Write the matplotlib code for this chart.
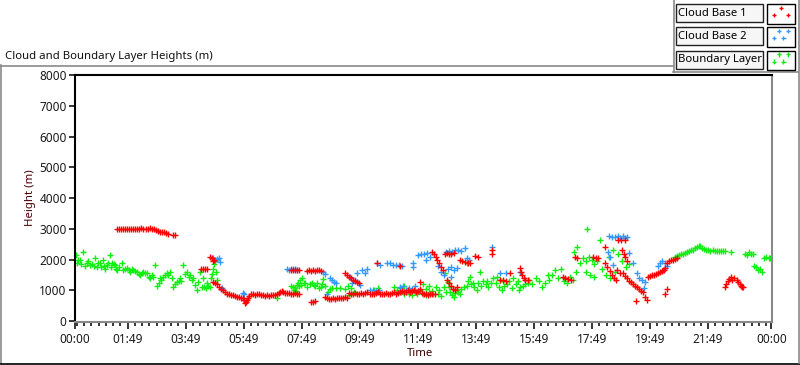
import matplotlib
matplotlib.use("Agg")
import matplotlib.pyplot as plt
from matplotlib.lines import Line2D
from matplotlib.patches import Rectangle
import numpy as np

plt.rcParams['font.family'] = ['Noto Sans', 'DejaVu Sans']

# (hour of day, height in m)
cloud_base_1 = [
    # ~3000 m layer
    (1.45, 3000), (1.52, 3000), (1.59, 2995), (1.66, 3000), (1.73, 3000), (1.80, 3000),
    (1.87, 3000), (1.94, 3005), (2.01, 3000), (2.08, 3000), (2.15, 3010), (2.22, 3000),
    (2.29, 3025), (2.36, 3010), (2.43, 3000), (2.50, 2990), (2.57, 3030), (2.64, 3010),
    (2.71, 2985), (2.78, 2950), (2.85, 2920), (2.92, 2900), (2.99, 2890), (3.06, 2890),
    (3.13, 2880), (3.20, 2850), (3.38, 2800), (3.44, 2790),
    # 04:20 - 07:45
    (4.33, 1690), (4.40, 1690), (4.47, 1690), (4.54, 1690), (4.66, 2100), (4.71, 2060),
    (4.75, 1960), (4.80, 1990),
    (4.76, 1280), (4.83, 1250), (4.90, 1200), (4.97, 1120), (5.03, 1060), (5.10, 1000),
    (5.17, 950), (5.24, 900), (5.31, 880), (5.38, 860), (5.45, 840), (5.52, 810),
    (5.59, 790), (5.66, 780), (5.73, 770), (5.78, 740), (5.82, 680), (5.85, 600),
    (5.88, 640), (5.92, 700), (5.96, 760), (6.00, 820), (6.06, 870), (6.13, 880),
    (6.20, 860), (6.27, 870), (6.34, 880), (6.41, 860), (6.48, 850), (6.55, 830),
    (6.62, 850), (6.69, 830), (6.76, 840), (6.83, 850), (6.90, 860), (6.97, 880),
    (7.03, 920), (7.08, 960), (7.13, 980), (7.18, 950), (7.24, 920), (7.31, 920),
    (7.38, 910), (7.45, 900), (7.52, 900), (7.59, 910), (7.66, 900), (7.73, 900),
    # 07:30 - 09:45
    (7.45, 1660), (7.52, 1660), (7.59, 1650), (7.66, 1660), (7.73, 1650),
    (8.00, 1640), (8.07, 1650), (8.14, 1620), (8.21, 1650), (8.28, 1640), (8.35, 1660),
    (8.42, 1650), (8.49, 1640),
    (8.12, 640), (8.19, 620), (8.26, 650),
    (8.60, 780), (8.67, 740), (8.74, 720), (8.81, 730), (8.88, 750), (8.95, 720),
    (9.02, 760), (9.09, 750), (9.16, 770), (9.23, 740), (9.30, 780), (9.37, 760),
    (9.31, 1560), (9.38, 1500), (9.45, 1440), (9.52, 1400), (9.59, 1350), (9.66, 1300),
    (9.73, 1280), (9.80, 1240),
    # ~900 m band
    (9.45, 930), (9.52, 900), (9.59, 890), (9.66, 920), (9.73, 880), (9.80, 900),
    (9.87, 910), (9.94, 890), (10.01, 920), (10.08, 950), (10.15, 900), (10.22, 880),
    (10.29, 900), (10.36, 920), (10.43, 950), (10.50, 900), (10.57, 870), (10.64, 890),
    (10.71, 910), (10.78, 880), (10.85, 900), (10.92, 930), (10.99, 950), (11.06, 900),
    (11.13, 920), (11.20, 960), (11.27, 980), (11.34, 940), (11.41, 960), (11.48, 1000),
    (11.55, 950), (11.62, 970), (11.69, 1000), (11.76, 960), (11.83, 990), (11.90, 1050),
    (11.97, 920), (12.04, 880), (12.11, 900), (12.18, 850), (12.25, 870), (12.32, 880),
    (12.39, 900),
    # scattered
    (10.41, 1890), (11.21, 1790), (11.90, 1270),
    (12.31, 2240), (12.37, 2180), (12.43, 2080), (12.49, 1980), (12.55, 1880), (12.62, 1760),
    (12.69, 1680),
    (12.76, 2200), (12.83, 2210), (12.90, 2190), (12.97, 2200), (13.07, 2210),
    (12.83, 1330), (12.90, 1250), (12.97, 1150), (13.03, 1060), (13.10, 1000), (13.17, 1100),
    (13.28, 1980), (13.35, 1950), (13.45, 1920), (13.55, 1880), (13.62, 1890),
    (13.79, 2110), (13.90, 2100),
    (14.38, 2300), (14.38, 2200),
    (14.66, 1330), (14.76, 1330), (14.86, 1310),
    (15.00, 1560), (15.34, 1720), (15.38, 1600), (15.42, 1500), (15.46, 1400), (15.52, 1330),
    (15.60, 1330),
    (16.83, 1430), (16.90, 1400), (17.00, 1360), (17.10, 1330),
    (17.24, 2080), (17.31, 2050),
    (17.86, 2080), (17.95, 2060), (18.03, 2040),
    (18.28, 2400),
    (18.28, 1880), (18.35, 1760), (18.42, 1620), (18.49, 1500), (18.56, 1420), (18.63, 1350),
    (18.69, 1660), (18.79, 1560),
    (18.72, 2630), (18.80, 2640), (18.95, 2630),
    (18.86, 2300), (18.92, 2200), (18.97, 2080), (19.03, 1960),
    (18.90, 1560), (18.97, 1480), (19.03, 1400), (19.10, 1320), (19.17, 1260), (19.24, 1200),
    (19.31, 1150), (19.38, 1100), (19.45, 1050), (19.52, 990), (19.59, 950),
    (19.34, 650), (19.66, 790), (19.72, 700),
    # evening rise
    (19.76, 1430), (19.83, 1460), (19.90, 1490), (19.97, 1510), (20.03, 1540), (20.10, 1560),
    (20.17, 1590), (20.24, 1620), (20.31, 1660),
    (20.34, 1720), (20.41, 1900), (20.48, 1950), (20.55, 1980), (20.62, 2000), (20.69, 2030),
    (20.76, 2050),
    (20.34, 880), (20.41, 1040),
    (22.41, 1110), (22.45, 1200), (22.50, 1300), (22.55, 1380), (22.59, 1430), (22.65, 1350),
    (22.72, 1390), (22.80, 1340), (22.86, 1260), (22.90, 1200), (22.95, 1150), (23.00, 1120),
    (23.03, 1100),
]

cloud_base_2 = [
    (4.76, 2050), (4.83, 2000), (4.90, 2030), (4.97, 2050), (5.00, 1920), (5.07, 1070),
    (5.79, 910), (5.83, 880),
    (7.31, 1690), (7.38, 1680), (7.45, 1700), (7.52, 1690), (7.59, 1690), (7.66, 1680),
    (8.55, 1590), (8.62, 1520), (8.69, 900), (8.79, 1400), (8.86, 1330), (8.93, 1280),
    (9.00, 1250),
    (9.48, 1430), (9.55, 1230), (9.66, 1330), (9.72, 1560), (9.83, 1170), (9.90, 1660),
    (10.00, 1560), (10.07, 1690),
    (10.17, 1000), (10.27, 1030), (10.38, 980), (10.48, 1010),
    (10.41, 1890), (10.52, 1820), (10.76, 1890), (10.86, 1880), (10.97, 1820), (11.07, 1820),
    (11.17, 1830), (11.28, 1810), (11.66, 1880), (11.66, 1760),
    (11.21, 1100), (11.31, 1150), (11.41, 1000), (11.52, 1070), (11.62, 1050), (11.72, 1150),
    (11.83, 980),
    (11.83, 2150), (11.93, 2200), (12.03, 2180), (12.14, 2210), (12.24, 2100), (12.10, 1980),
    (12.50, 1800), (12.62, 1600), (12.72, 1500), (12.97, 1450),
    (12.80, 2250), (12.90, 2280), (13.00, 2260), (13.10, 2300), (13.20, 2310), (13.30, 2280),
    (13.45, 2370),
    (12.85, 1700), (12.95, 1760), (13.05, 1650), (13.15, 1720),
    (13.52, 2050), (13.59, 1980),
    (14.38, 2400), (14.66, 1560), (14.86, 1560), (15.34, 1600),
    (18.40, 2760), (18.50, 2750), (18.60, 2740), (18.72, 2760), (18.79, 2720), (18.90, 2760),
    (18.97, 2700), (19.03, 2740),
    (18.38, 2240), (18.45, 2080), (18.55, 1820), (19.10, 2210), (19.24, 1880), (19.38, 1560),
    (19.45, 1400), (19.55, 1330), (19.65, 1270), (19.62, 1070),
    (20.10, 1800), (20.17, 1880), (20.24, 1950), (20.34, 1900), (20.41, 1780), (20.28, 1660),
]

boundary_layer = [
    (0.03, 2150), (0.07, 1890), (0.10, 2000), (0.17, 1980), (0.20, 1850), (0.28, 2240),
    (0.35, 1800), (0.41, 1890), (0.45, 1950), (0.52, 1820), (0.60, 1850), (0.65, 1780),
    (0.69, 2050), (0.76, 1760), (0.80, 1900), (0.86, 1890), (0.90, 1750), (0.97, 1980),
    (1.00, 1800), (1.05, 1700), (1.10, 1820), (1.15, 1880), (1.21, 2150), (1.25, 1750),
    (1.28, 1890), (1.35, 1850), (1.38, 1820), (1.40, 1700),
    (1.45, 1660), (1.52, 1750), (1.62, 1890), (1.66, 1660), (1.72, 1700), (1.79, 1720),
    (1.85, 1650), (1.90, 1600), (1.97, 1700), (2.00, 1660), (2.07, 1620), (2.14, 1600),
    (2.20, 1550), (2.24, 1500), (2.30, 1560), (2.34, 1600), (2.41, 1580), (2.48, 1560),
    (2.55, 1450), (2.59, 1400), (2.64, 1500), (2.69, 1430), (2.76, 1820), (2.83, 1140),
    (2.88, 1250), (2.93, 1400), (2.98, 1350), (3.03, 1430), (3.10, 1500), (3.17, 1560),
    (3.22, 1500), (3.28, 1600), (3.33, 1400), (3.38, 1100), (3.45, 1200), (3.52, 1270),
    (3.57, 1300), (3.62, 1400), (3.67, 1300), (3.72, 1820), (3.78, 1550), (3.86, 1600),
    (3.92, 1450), (3.97, 1500), (4.03, 1330), (4.08, 1400), (4.14, 1170), (4.20, 1000),
    (4.24, 1270), (4.31, 1600), (4.36, 1100), (4.41, 1400), (4.45, 1120), (4.50, 1080),
    (4.55, 1230), (4.60, 1150), (4.66, 1100), (4.70, 1400), (4.72, 1550), (4.76, 1700),
    (4.80, 1850), (4.83, 1950), (4.86, 1600), (4.90, 1330),
    (6.97, 750),
    (7.45, 1150), (7.52, 1100), (7.55, 1000), (7.59, 1070), (7.62, 970), (7.66, 1170),
    (7.69, 1230), (7.72, 1130), (7.76, 1330), (7.80, 1170), (7.83, 1400), (7.88, 1250),
    (7.93, 1230), (8.00, 1100), (8.10, 1200), (8.17, 1230), (8.24, 1170), (8.28, 1130),
    (8.35, 1230), (8.40, 1070), (8.47, 1100), (8.52, 1200), (8.55, 1370), (8.62, 1130),
    (8.72, 940), (8.80, 1050), (8.86, 1070), (9.00, 1070), (9.14, 1070), (9.30, 1040),
    (9.40, 1130), (9.45, 850), (9.50, 1070), (9.60, 960),
    (10.30, 1030), (10.45, 1070), (11.00, 1100), (11.10, 1000), (11.20, 1070), (11.35, 1140),
    (11.25, 950), (11.35, 880), (11.50, 900), (11.60, 850), (11.70, 950), (11.80, 870),
    (11.90, 1000), (12.00, 900), (12.10, 850), (12.20, 960), (12.35, 880), (12.50, 900),
    (12.60, 820),
    (12.00, 1200), (12.10, 1050), (12.20, 1130), (12.30, 980), (12.45, 1100), (12.55, 1000),
    (12.70, 1100), (12.80, 950),
    (12.76, 1560), (12.86, 1270), (12.93, 940), (13.10, 910), (13.20, 950), (13.28, 880),
    (12.90, 1100), (13.00, 850), (13.05, 800), (13.15, 1000), (13.30, 1050), (13.40, 1100),
    (13.50, 1150),
    (13.52, 1890), (13.62, 1430), (13.72, 1230), (13.86, 1000), (13.97, 1590),
    (13.55, 1300), (13.65, 1200), (13.75, 1100), (13.90, 1250), (14.00, 1150), (14.05, 1300),
    (14.15, 1200), (14.20, 1300), (14.25, 1100), (14.35, 1250), (14.40, 1400),
    (14.50, 1230), (14.55, 1450), (14.60, 1100), (14.65, 1350), (14.70, 1000), (14.75, 1300),
    (14.80, 1150), (14.90, 1200), (14.95, 1300), (15.05, 1070), (15.10, 1400), (15.20, 1200),
    (15.25, 1300), (15.30, 1000), (15.35, 1100), (15.45, 1150), (15.50, 1200), (15.60, 1250),
    (15.65, 1350), (15.75, 1200), (15.90, 1400), (16.00, 1300), (16.10, 1100), (16.20, 1250),
    (16.30, 1500), (16.35, 1350),
    (16.45, 1500), (16.55, 1650), (16.65, 1400), (16.75, 1700), (16.85, 1300), (16.95, 1230),
    (17.05, 1450), (17.15, 1350), (17.25, 1600),
    (17.20, 2250), (17.30, 2400), (17.40, 1900), (17.50, 2050), (17.60, 1950), (17.66, 3000),
    (17.70, 2100), (17.80, 2000), (17.90, 1850), (18.00, 1950),
    (17.60, 1600), (17.75, 1500), (17.90, 1450),
    (18.10, 2630), (18.15, 1700), (18.30, 1500), (18.45, 1400), (18.60, 1600), (18.40, 2100),
    (18.55, 2300), (18.70, 2200), (18.85, 1950), (19.00, 1750), (19.10, 1850),
    (20.69, 2080), (20.76, 2110), (20.83, 2150), (20.90, 2180), (20.97, 2200), (21.03, 2230),
    (21.10, 2250), (21.17, 2280), (21.24, 2300), (21.31, 2330), (21.38, 2370), (21.45, 2400),
    (21.52, 2430), (21.55, 2440),
    (21.62, 2380), (21.69, 2350), (21.76, 2300), (21.83, 2330), (21.90, 2280), (21.97, 2300),
    (22.04, 2290), (22.11, 2280), (22.18, 2280), (22.25, 2290), (22.32, 2280), (22.39, 2270),
    (22.59, 2240),
    (23.10, 2200), (23.17, 2150), (23.24, 2250), (23.31, 2200), (23.38, 2180),
    (23.40, 1800), (23.47, 1750), (23.53, 1650), (23.60, 1700), (23.66, 1600),
    (23.76, 2050), (23.83, 2080), (23.90, 2060), (23.95, 2050),
]

series_names = ['Cloud Base 1', 'Cloud Base 2', 'Boundary Layer']
series_colors = ['#ff0000', '#3399ff', '#11ee11']

tick_hours = [0] + [1 + 49 / 60 + 2 * k for k in range(11)] + [24]
tick_labels = ['00:00', '01:49', '03:49', '05:49', '07:49', '09:49', '11:49',
               '13:49', '15:49', '17:49', '19:49', '21:49', '00:00']

W, H = 800, 365
FS = 8.2


def fx(x):
    return x / W


def fy(y):
    return 1 - y / H


fig = plt.figure(figsize=(8, 3.65), dpi=100)

ax = fig.add_axes([fx(75), fy(322), fx(772) - fx(75), fy(75) - fy(322)])
handles = []
for data, col in zip([boundary_layer, cloud_base_2, cloud_base_1],
                     [series_colors[2], series_colors[1], series_colors[0]]):
    t, h = np.array(data).T
    handles.append(ax.scatter(t, h, marker='+', s=17, linewidths=1.0, color=col))
handles = handles[::-1]

ax.set_xlim(0, 24.02)
ax.set_ylim(-25, 8000)
ax.set_yticks(range(0, 8001, 1000))
ax.set_xticks(tick_hours)
ax.set_xticklabels(tick_labels)
ax.set_xticks(np.arange(tick_hours[1] - 7 * 0.25, 24, 0.25), minor=True)
ax.tick_params(axis='both', which='major', labelsize=FS + 0.3, color='black',
               labelcolor='#1a1a1a', width=1.1)
ax.tick_params(axis='y', length=4, pad=2)
ax.tick_params(axis='x', which='major', length=5, pad=3)
ax.tick_params(axis='x', which='minor', length=3, width=1.1, color='black')
for side, col in [('left', 'black'), ('top', 'black'), ('right', '#8a8a8a'), ('bottom', '#8a8a8a')]:
    ax.spines[side].set_color(col)
    ax.spines[side].set_linewidth(1.5)

fig.text(fx(5), fy(59), 'Cloud and Boundary Layer Heights (m)', fontsize=FS, va='baseline',
         color='#111111')
fig.text(fx(31), fy(198), 'Height (m)', rotation=90, ha='center', va='center', fontsize=FS,
         color='#4a0000')
fig.text(fx(420), fy(353), 'Time', ha='center', va='center', fontsize=FS, color='#3a0000')

# frame lines
frame = [
    ([0, 673], [65.5, 65.5], '#8a8a8a'),
    ([0.5, 0.5], [65, 363], '#8a8a8a'),
    ([0, 800], [363.5, 363.5], 'black'),
    ([673.5, 673.5], [0, 72], '#8a8a8a'),
    ([673, 798], [72, 72], '#8a8a8a'),
    ([798.5, 798.5], [0, 363], '#8a8a8a'),
]
for xs, ys, col in frame:
    fig.add_artist(Line2D([fx(v) for v in xs], [fy(v) for v in ys], color=col, lw=1.2,
                          transform=fig.transFigure))

# legend panel
for i, (name, hnd) in enumerate(zip(series_names, handles)):
    top = 4 + i * 23.3
    fig.add_artist(Rectangle((fx(676), fy(top + 18)), fx(87), 18 / H, transform=fig.transFigure,
                             facecolor='#f6f6f6', edgecolor='#222222', lw=1))
    fig.text(fx(678.5), fy(top + 9), name, fontsize=8.1, va='center', color='black')
    n = 3 if i == 0 else 4
    offs = [0.2, 0.8, 0.2] if n == 3 else [0.2, 0.8, 0.2, 0.8]
    leg = fig.legend([hnd], [''], loc='upper left', bbox_to_anchor=(fx(767), fy(top)),
                     bbox_transform=fig.transFigure, borderaxespad=0, frameon=True,
                     fancybox=False, edgecolor='black', framealpha=1, facecolor='white',
                     scatterpoints=n, scatteryoffsets=offs, handlelength=1.75,
                     handleheight=1.1, handletextpad=0, borderpad=0.25, fontsize=9,
                     markerscale=0.75)
    leg.get_frame().set_linewidth(1)

fig.savefig('out.png', dpi=100)
